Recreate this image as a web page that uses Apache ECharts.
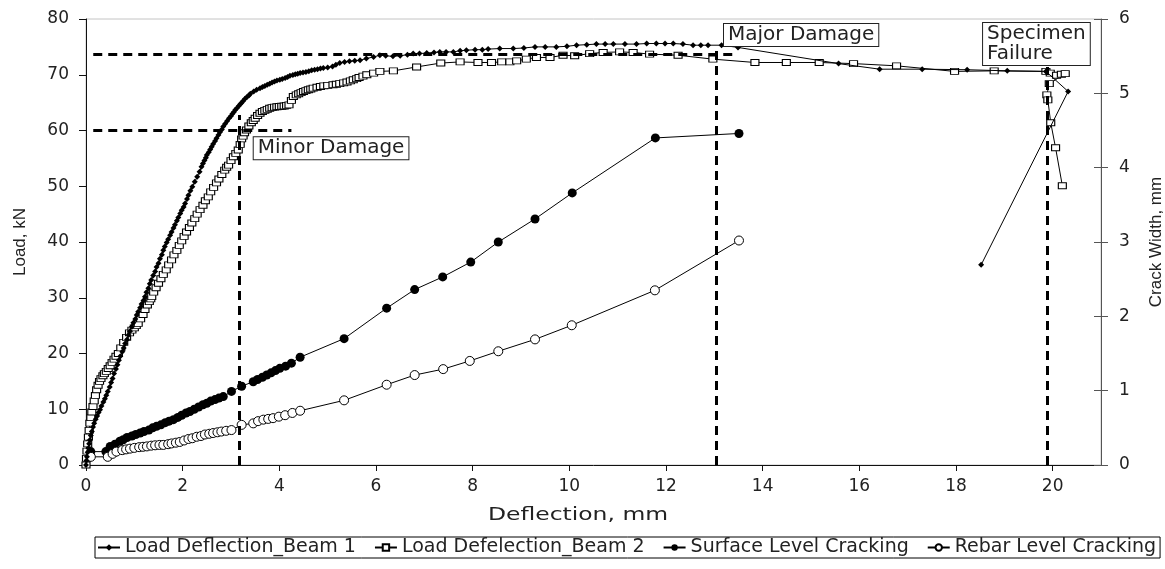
<!DOCTYPE html>
<html>
<head>
<meta charset="utf-8">
<title>Load and crack width versus deflection</title>
<script src="https://cdn.jsdelivr.net/npm/echarts@6/dist/echarts.min.js"></script>
<style>
  html, body { margin: 0; padding: 0; background: #ffffff; }
  #chart { width: 1165px; height: 569px; }
</style>
</head>
<body>
<div id="chart"></div>
<script>
// ---- measured data -------------------------------------------------------
// Beam 1: deflection (mm) and load (kN)
const beam1Defl = [0,0.01,0.02,0.035,0.05,0.065,0.08,0.1,0.12,0.145,0.17,0.2,0.23,0.26,0.29,0.32,0.36,0.39,0.42,0.45,0.49,0.52,0.55,0.58,0.62,0.65,0.68,0.71,0.75,0.78,0.81,0.85,0.88,0.91,0.95,0.98,1.02,1.05,1.08,1.12,1.15,1.19,1.22,1.25,1.29,1.32,1.35,1.39,1.43,1.46,1.5,1.53,1.57,1.6,1.63,1.67,1.7,1.74,1.77,1.81,1.84,1.88,1.91,1.95,1.98,2.02,2.05,2.09,2.12,2.16,2.2,2.25,2.3,2.35,2.39,2.42,2.45,2.48,2.5,2.54,2.57,2.6,2.63,2.67,2.7,2.74,2.77,2.81,2.84,2.88,2.92,2.96,3.0,3.03,3.06,3.09,3.12,3.16,3.19,3.22,3.25,3.29,3.33,3.37,3.4,3.47,3.53,3.6,3.65,3.7,3.75,3.8,3.85,3.9,3.95,4.01,4.06,4.12,4.17,4.22,4.28,4.33,4.38,4.43,4.49,4.55,4.61,4.67,4.73,4.79,4.85,4.91,5.0,5.1,5.17,5.25,5.35,5.45,5.56,5.67,5.8,5.95,6.08,6.2,6.35,6.5,6.65,6.77,6.9,7.05,7.2,7.32,7.45,7.6,7.74,7.87,8.05,8.2,8.32,8.56,8.84,9.06,9.29,9.5,9.73,9.95,10.15,10.36,10.56,10.74,10.91,11.15,11.39,11.6,11.8,11.98,12.15,12.35,12.56,12.72,12.87,13.15,13.49,15.57,16.42,17.3,18.23,19.06,19.86,20.32,18.52];
const beam1Load = [0,0.8,1.5,2.3,3,3.8,4.5,5.3,6,6.8,7.5,8.2,8.8,9.4,9.9,10.6,11.3,11.9,12.5,13.2,14,14.8,15.5,16.4,17.2,18,18.8,19.5,20.3,21,21.8,22.5,23.3,24,24.8,25.5,26.2,26.9,27.5,28.2,28.9,29.5,30.2,31,31.7,32.5,33.2,34,34.7,35.5,36.2,37,37.7,38.5,39.2,39.9,40.5,41.2,41.8,42.5,43.1,43.8,44.4,45.1,45.7,46.3,46.9,47.7,48.4,49.2,49.9,50.8,51.7,52.6,53.5,54.1,54.6,55.1,55.6,56.1,56.6,57.1,57.6,58.1,58.6,59.2,59.7,60.2,60.7,61.2,61.7,62.2,62.6,63.0,63.3,63.7,64.0,64.4,64.7,65.0,65.3,65.7,66.0,66.3,66.6,67.0,67.3,67.6,67.8,68.0,68.2,68.4,68.6,68.8,68.95,69.1,69.25,69.4,69.6,69.8,69.95,70.1,70.2,70.3,70.4,70.5,70.65,70.8,70.9,71.0,71.1,71.2,71.3,71.5,71.8,72.1,72.3,72.4,72.5,72.6,72.9,73.2,73.5,73.4,73.3,73.4,73.6,73.8,73.8,73.9,74.0,74.1,74.1,74.1,74.3,74.4,74.5,74.5,74.6,74.7,74.7,74.8,75.0,75.0,75.0,75.1,75.3,75.4,75.5,75.5,75.5,75.5,75.5,75.6,75.6,75.6,75.6,75.5,75.3,75.3,75.3,75.3,74.9,72.0,71.0,71.0,70.9,70.7,70.6,67.0,35.9];

// Beam 2: deflection (mm) and load (kN)
const beam2Defl = [0,0.01,0.02,0.035,0.05,0.065,0.08,0.1,0.12,0.145,0.17,0.195,0.22,0.25,0.28,0.31,0.35,0.38,0.42,0.46,0.5,0.54,0.58,0.62,0.67,0.72,0.78,0.84,0.9,0.95,1.0,1.04,1.08,1.13,1.18,1.22,1.27,1.31,1.34,1.36,1.4,1.45,1.5,1.55,1.6,1.66,1.71,1.77,1.82,1.88,1.93,1.98,2.03,2.08,2.14,2.19,2.25,2.3,2.36,2.42,2.47,2.53,2.58,2.64,2.7,2.75,2.81,2.87,2.91,2.95,3.0,3.05,3.1,3.15,3.19,3.22,3.25,3.28,3.32,3.37,3.42,3.46,3.5,3.55,3.6,3.65,3.7,3.75,3.8,3.85,3.9,3.95,4.0,4.05,4.1,4.15,4.2,4.25,4.29,4.35,4.4,4.45,4.5,4.55,4.6,4.65,4.7,4.78,4.85,4.92,5.0,5.11,5.18,5.25,5.33,5.4,5.47,5.53,5.6,5.65,5.73,5.81,5.95,6.08,6.36,6.84,7.34,7.74,8.11,8.39,8.6,8.77,8.91,9.11,9.32,9.6,9.87,10.11,10.42,10.7,11.04,11.32,11.66,12.25,12.97,13.84,14.49,15.17,15.88,16.77,17.97,18.79,19.86,19.95,20.08,20.18,20.26,19.93,19.88,19.9,19.96,20.06,20.2];
const beam2Load = [0,1.2,2.5,3.8,5,6.2,7.5,8.5,9.5,10.5,11.5,12.5,13.5,14.3,15,15.5,16,16.4,16.8,17.3,17.8,18.4,19,19.5,20,21,22,22.9,23.7,24.2,24.6,25,25.4,26.2,27,27.9,28.7,29.3,29.8,30.2,31,31.8,32.6,33.4,34.2,35,35.9,36.8,37.7,38.5,39.4,40.2,41,41.8,42.6,43.4,44.2,45,45.8,46.6,47.4,48.1,49,49.8,50.6,51.3,52.1,52.9,53.4,53.8,54.6,55.3,55.9,56.5,57.5,58.5,59,59.6,60.1,60.8,61.4,61.8,62.2,62.7,63.1,63.4,63.6,63.8,64.0,64.1,64.2,64.25,64.3,64.35,64.4,64.5,64.6,65.4,66.1,66.4,66.6,66.8,67.0,67.15,67.3,67.45,67.6,67.75,67.9,68.0,68.1,68.2,68.3,68.4,68.55,68.7,68.9,69.1,69.3,69.5,69.75,70.0,70.3,70.6,70.7,71.4,72.1,72.3,72.2,72.2,72.3,72.3,72.5,72.8,73.1,73.1,73.5,73.4,73.8,74.0,74.1,74.0,73.7,73.5,72.8,72.2,72.2,72.2,72.0,71.6,70.6,70.7,70.6,70.3,69.9,70.1,70.2,68.4,66.4,65.5,61.4,56.9,50.1];

// Surface level cracking: deflection (mm) and crack width (mm)
const surfaceDefl = [0.1,0.41,0.5,0.6,0.7,0.77,0.85,0.95,1.03,1.12,1.2,1.3,1.38,1.46,1.55,1.64,1.72,1.81,1.9,1.98,2.07,2.15,2.24,2.33,2.42,2.5,2.58,2.67,2.75,2.84,3.01,3.22,3.46,3.55,3.65,3.74,3.83,3.92,4.01,4.13,4.25,4.43,5.34,6.22,6.8,7.38,7.96,8.53,9.29,10.06,11.78,13.51];
const surfaceWidth = [0.18,0.18,0.25,0.28,0.32,0.34,0.37,0.39,0.41,0.43,0.45,0.47,0.5,0.52,0.54,0.57,0.59,0.61,0.64,0.67,0.7,0.72,0.75,0.78,0.81,0.83,0.86,0.88,0.9,0.92,0.99,1.06,1.12,1.15,1.18,1.21,1.24,1.27,1.3,1.33,1.37,1.45,1.7,2.11,2.36,2.53,2.73,3.0,3.31,3.66,4.4,4.46];

// Rebar level cracking: deflection (mm) and crack width (mm)
const rebarDefl = [0.1,0.45,0.55,0.63,0.75,0.83,0.91,1.0,1.1,1.18,1.26,1.35,1.43,1.52,1.6,1.7,1.77,1.86,1.94,2.03,2.12,2.2,2.29,2.38,2.46,2.55,2.63,2.72,2.8,2.9,3.01,3.22,3.46,3.56,3.67,3.77,3.87,3.99,4.12,4.27,4.43,5.34,6.22,6.8,7.39,7.94,8.53,9.29,10.05,11.77,13.51];
const rebarWidth = [0.11,0.11,0.15,0.18,0.2,0.21,0.22,0.23,0.24,0.245,0.25,0.26,0.265,0.27,0.27,0.28,0.29,0.3,0.31,0.33,0.35,0.36,0.38,0.39,0.41,0.42,0.43,0.44,0.45,0.46,0.47,0.54,0.56,0.59,0.61,0.62,0.63,0.65,0.67,0.7,0.73,0.87,1.08,1.21,1.29,1.4,1.53,1.69,1.88,2.35,3.02];

// Damage thresholds: horizontal load levels (kN) and their deflection span (mm)
const loadLevels = [73.7, 60];
const loadLevelSpan = [[0.15, 13.45], [0.15, 4.25]];
// Damage stations: deflection (mm) and top of the marker line (kN)
const stationDefl = [3.18, 13.04, 19.89];
const stationTop = [62.8, 75.0, 71.4];
// Annotation texts and their anchor (deflection mm, load kN)
const noteTexts = ['Minor Damage', 'Major Damage', 'Specimen\nFailure'];
const noteAnchor = [[3.47, 58.8], [13.2, 79.1], [18.56, 79.3]];

const seriesNames = ['Load Deflection_Beam 1', 'Load Defelection_Beam 2', 'Surface Level Cracking', 'Rebar Level Cracking'];

// ---- build chart ---------------------------------------------------------
const zip = (xs, ys) => xs.map((x, i) => [x, ys[i]]);
const tickFont = { fontFamily: 'DejaVu Sans', fontSize: 17, color: '#222' };
const titleFont = { fontFamily: 'Liberation Sans, Arial, sans-serif', fontSize: 17, color: '#222' };

const dashStyle = { color: '#000', width: 3, type: [9, 6] };
const markLines = [];
loadLevels.forEach((lv, i) => {
  markLines.push([{ coord: [loadLevelSpan[i][0], lv] }, { coord: [loadLevelSpan[i][1], lv] }]);
});
stationDefl.forEach((d, i) => {
  markLines.push([{ coord: [d, 0] }, { coord: [d, stationTop[i]] }]);
});
const notes = noteTexts.map((t, i) => ({
  coord: noteAnchor[i],
  value: t,
  symbol: 'rect',
  symbolSize: 0,
  label: {
    show: true,
    formatter: t,
    position: [0, 0],
    align: 'left',
    verticalAlign: 'top',
    fontFamily: 'DejaVu Sans',
    fontSize: 20,
    lineHeight: 20,
    color: '#222',
    backgroundColor: '#fff',
    borderColor: '#222',
    borderWidth: 1,
    padding: [1, 4, 1, 4]
  }
}));

const chart = echarts.init(document.getElementById('chart'), null, { renderer: 'canvas' });
chart.setOption({
  animation: false,
  backgroundColor: '#fff',
  grid: {
    left: 86, right: 64, top: 19, bottom: 104,
    outerBoundsMode: 'none', containLabel: false,
    show: true, borderColor: '#c4c4c4', borderWidth: 1
  },
  legend: {
    data: seriesNames,
    left: 95,
    top: 537,
    itemWidth: 22,
    itemHeight: 8,
    itemGap: 18,
    padding: [1, 4, 1, 2],
    borderColor: '#000',
    borderWidth: 1,
    textStyle: { fontFamily: 'DejaVu Sans', fontSize: 19, lineHeight: 18, color: '#222' }
  },
  // horizontal axis title, widened to the lettering of the original chart
  graphic: [{
    type: 'text', x: 578, y: 516, scaleX: 1.38, silent: true,
    style: { text: 'Deflection, mm', fontFamily: 'DejaVu Sans', fontSize: 17, fill: '#222', align: 'center', verticalAlign: 'middle' }
  }],
  xAxis: {
    type: 'value', min: 0, max: 21, interval: 2,
    axisLine: { show: true, onZero: false, lineStyle: { color: '#111' } },
    axisTick: { show: true, length: 6, lineStyle: { color: '#111' } },
    splitLine: { show: false },
    axisLabel: Object.assign({ margin: 13, showMaxLabel: false }, tickFont)
  },
  yAxis: [
    {
      type: 'value', position: 'left', min: 0, max: 80, interval: 10,
      axisLine: { show: true, lineStyle: { color: '#111' } },
      axisTick: { show: true, length: 7, lineStyle: { color: '#111' } },
      splitLine: { show: false },
      axisLabel: Object.assign({ margin: 17 }, tickFont),
      name: 'Load, kN', nameLocation: 'middle', nameGap: 57, nameRotate: 90,
      nameTextStyle: titleFont
    },
    {
      type: 'value', position: 'right', min: 0, max: 6, interval: 1,
      axisLine: { show: true, lineStyle: { color: '#555' } },
      axisTick: { show: true, length: 7, lineStyle: { color: '#555' } },
      splitLine: { show: false },
      axisLabel: Object.assign({ margin: 18 }, tickFont),
      name: 'Crack Width, mm', nameLocation: 'middle', nameGap: 47, nameRotate: 90,
      nameTextStyle: titleFont
    },
    {
      // inner half of the crossing ticks on the secondary axis
      type: 'value', position: 'right', min: 0, max: 6, interval: 1,
      axisLine: { show: false },
      axisTick: { show: true, inside: true, length: 7, lineStyle: { color: '#555' } },
      axisLabel: { show: false },
      splitLine: { show: false }
    }
  ],
  series: [
    {
      name: seriesNames[0], type: 'line', yAxisIndex: 0, data: zip(beam1Defl, beam1Load),
      showAllSymbol: true, symbol: 'diamond', symbolSize: 6,
      lineStyle: { color: '#000', width: 1 }, itemStyle: { color: '#000' }, z: 3
    },
    {
      name: seriesNames[1], type: 'line', yAxisIndex: 0, data: zip(beam2Defl, beam2Load),
      showAllSymbol: true, symbol: 'rect', symbolSize: [8, 6],
      lineStyle: { color: '#000', width: 1 }, itemStyle: { color: '#fff', borderColor: '#000', borderWidth: 1 }, z: 2
    },
    {
      name: seriesNames[2], type: 'line', yAxisIndex: 1, data: zip(surfaceDefl, surfaceWidth),
      showAllSymbol: true, symbol: 'circle', symbolSize: 9,
      lineStyle: { color: '#000', width: 1 }, itemStyle: { color: '#000' }, z: 2
    },
    {
      name: seriesNames[3], type: 'line', yAxisIndex: 1, data: zip(rebarDefl, rebarWidth),
      showAllSymbol: true, symbol: 'circle', symbolSize: 9,
      lineStyle: { color: '#000', width: 1 }, itemStyle: { color: '#fff', borderColor: '#000', borderWidth: 1 }, z: 2
    },
    {
      name: 'annotations', type: 'line', yAxisIndex: 0, data: [], silent: true, z: 4,
      markLine: { silent: true, symbol: ['none', 'none'], label: { show: false }, lineStyle: dashStyle, data: markLines, animation: false },
      markPoint: { silent: true, data: notes, animation: false }
    }
  ]
});
</script>
</body>
</html>
